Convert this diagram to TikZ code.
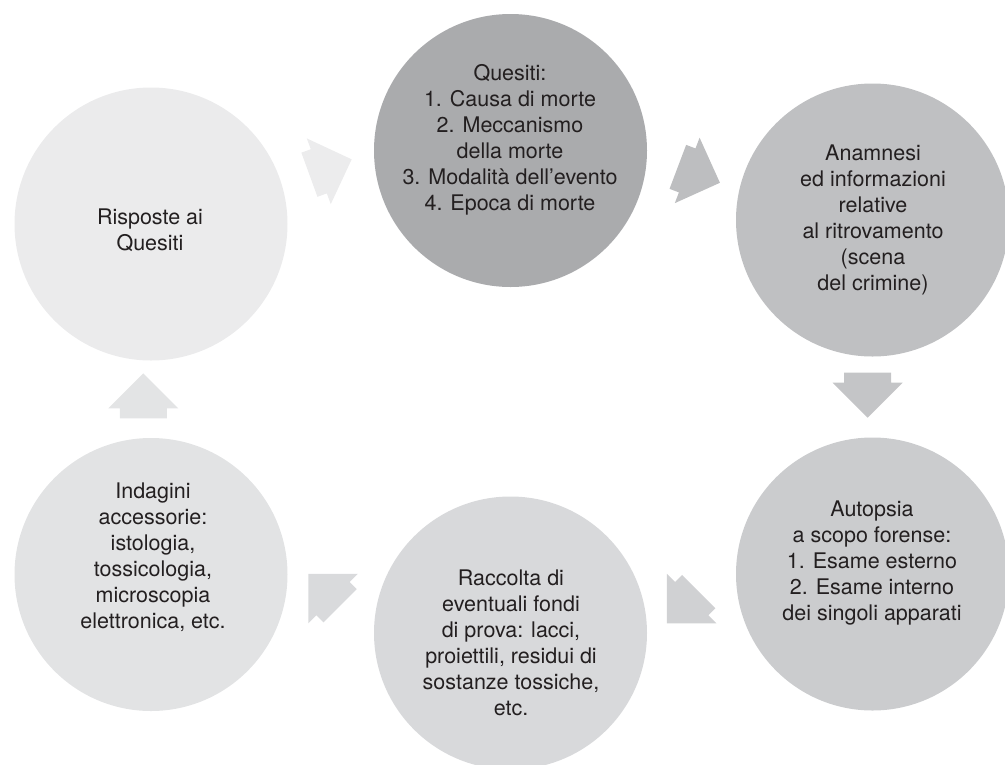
\documentclass[tikz,border=0pt]{standalone}
\usepackage{fontspec}
\setmainfont{TeX Gyre Heros}
\definecolor{txt}{HTML}{231F20}
\definecolor{cq}{HTML}{AAABAD}
\definecolor{ca}{HTML}{BFC0C2}
\definecolor{cau}{HTML}{CBCCCE}
\definecolor{cr}{HTML}{D8D9DB}
\definecolor{ci}{HTML}{E2E3E4}
\definecolor{cris}{HTML}{EBEBEC}
\definecolor{aone}{HTML}{ECECED}
\definecolor{atwo}{HTML}{BDBEC0}
\definecolor{athree}{HTML}{C4C5C7}
\definecolor{afour}{HTML}{D0D1D3}
\definecolor{afive}{HTML}{D9DADC}
\definecolor{asix}{HTML}{E3E4E5}
\begin{document}
\begin{tikzpicture}[x=1pt,y=-1pt,
  bubble/.style={circle, minimum size=273pt, inner sep=0pt, draw=none},
  lbl/.style={align=center, font=\fontsize{21.5}{26}\selectfont, text=txt, inner sep=0pt},
  blockarrow/.pic={\fill[#1] (-10,-23.5) -- (0,-23.5) -- (0,-35) -- (35,0) -- (0,35) -- (0,23.5) -- (-10,23.5) -- cycle;}
]
\useasboundingbox (0,0) rectangle (1005,764);
% circles
\node[bubble, fill=cq]   (q)   at (510.5,150.5) {};
\node[bubble, fill=ca]   (a)   at (872.5,220)   {};
\node[bubble, fill=cau]  (au)  at (872.5,574)   {};
\node[bubble, fill=cr]   (r)   at (510.5,633)   {};
\node[bubble, fill=ci]   (ind) at (151,574.5)   {};
\node[bubble, fill=cris] (ris) at (151,224)     {};
% texts
\node[lbl] (tq) at (510,140) {Quesiti:\\1. Causa di morte\\2. Meccanismo\\della morte\\3. Modalità dell’evento\\4. Epoca di morte};
\node[lbl] (ta) at (873,220) {Anamnesi\\ed informazioni\\relative\\al ritrovamento\\(scena\\del crimine)};
\node[lbl] (tau) at (872,563) {Autopsia\\a scopo forense:\\1. Esame esterno\\2. Esame interno\\dei singoli apparati};
\node[lbl] (tr) at (511,643) {Raccolta di\\eventuali fondi\\di prova: lacci,\\proiettili, residui di\\sostanze tossiche,\\etc.};
\node[lbl] (ti) at (153,557) {Indagini\\accessorie:\\istologia,\\tossicologia,\\microscopia\\elettronica, etc.};
\node[lbl] (tris) at (150,230) {Risposte ai\\Quesiti};
% block arrows
\pic[rotate=20]    at (318.8,171.3) {blockarrow=aone};
\pic[rotate=-20.7] at (687.2,170.4) {blockarrow=atwo};
\pic[rotate=-90]   at (867.7,382.7) {blockarrow=athree};
\pic[rotate=-135]  at (691.7,598.6) {blockarrow=afour};
\pic[rotate=135]   at (333,598.7)   {blockarrow=afive};
\pic[rotate=90]    at (143.3,408.3) {blockarrow=asix};
\end{tikzpicture}
\end{document}
